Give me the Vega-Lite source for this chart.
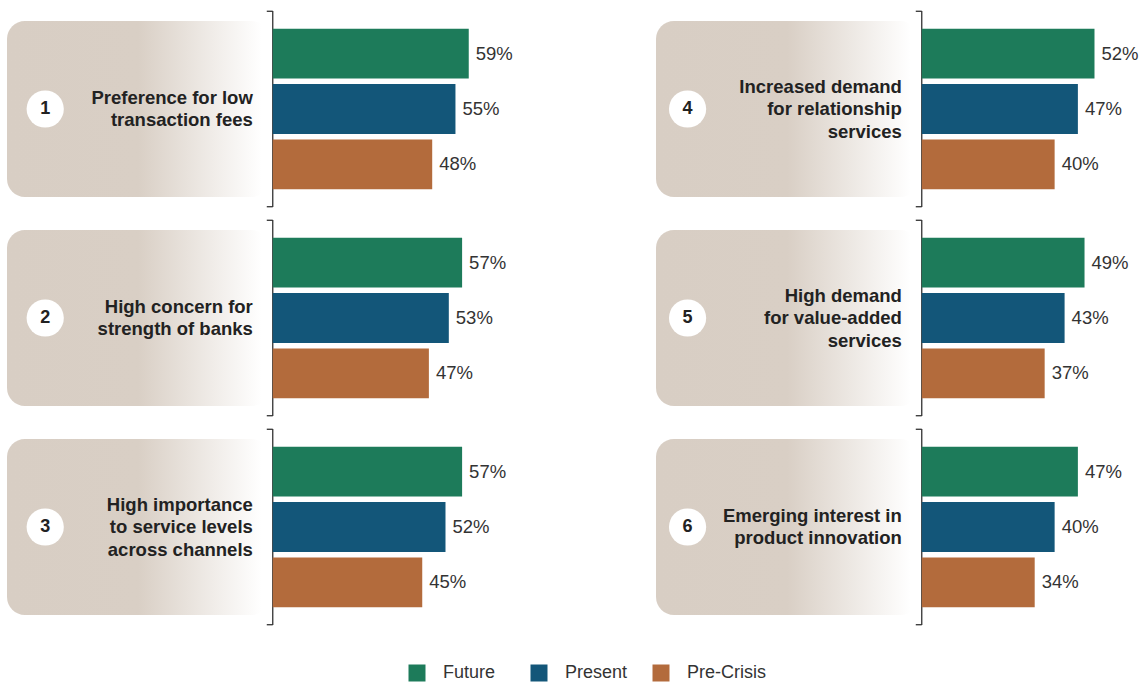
{
  "$schema": "https://vega.github.io/schema/vega-lite/v6.json",
  "padding": {"left": 7, "top": 10, "right": 0, "bottom": 0},
  "background": "white",
  "config": {
    "view": {"stroke": null},
    "font": "Liberation Sans"
  },
  "datasets": {
    "survey": [
      {"panel": "1", "label": ["Preference for low", "transaction fees"], "cat": "Future", "value": 0.59},
      {"panel": "1", "label": ["Preference for low", "transaction fees"], "cat": "Present", "value": 0.55},
      {"panel": "1", "label": ["Preference for low", "transaction fees"], "cat": "Pre-Crisis", "value": 0.48},
      {"panel": "2", "label": ["High concern for", "strength of banks"], "cat": "Future", "value": 0.57},
      {"panel": "2", "label": ["High concern for", "strength of banks"], "cat": "Present", "value": 0.53},
      {"panel": "2", "label": ["High concern for", "strength of banks"], "cat": "Pre-Crisis", "value": 0.47},
      {"panel": "3", "label": ["High importance", "to service levels", "across channels"], "cat": "Future", "value": 0.57},
      {"panel": "3", "label": ["High importance", "to service levels", "across channels"], "cat": "Present", "value": 0.52},
      {"panel": "3", "label": ["High importance", "to service levels", "across channels"], "cat": "Pre-Crisis", "value": 0.45},
      {"panel": "4", "label": ["Increased demand", "for relationship", "services"], "cat": "Future", "value": 0.52},
      {"panel": "4", "label": ["Increased demand", "for relationship", "services"], "cat": "Present", "value": 0.47},
      {"panel": "4", "label": ["Increased demand", "for relationship", "services"], "cat": "Pre-Crisis", "value": 0.40},
      {"panel": "5", "label": ["High demand", "for value-added", "services"], "cat": "Future", "value": 0.49},
      {"panel": "5", "label": ["High demand", "for value-added", "services"], "cat": "Present", "value": 0.43},
      {"panel": "5", "label": ["High demand", "for value-added", "services"], "cat": "Pre-Crisis", "value": 0.37},
      {"panel": "6", "label": ["Emerging interest in", "product innovation"], "cat": "Future", "value": 0.47},
      {"panel": "6", "label": ["Emerging interest in", "product innovation"], "cat": "Present", "value": 0.40},
      {"panel": "6", "label": ["Emerging interest in", "product innovation"], "cat": "Pre-Crisis", "value": 0.34}
    ]
  },
  "data": {"name": "survey"},
  "spacing": 143,
  "hconcat": [
    {
      "spacing": 11,
      "vconcat": [
        {"width": 485, "height": 196, "transform": [{"filter": "datum.panel === '1'"}], "layer": [
          {"transform": [{"filter": "datum.cat === 'Future'"}], "mark": {"type": "rect", "cornerRadius": 18, "fill": {"gradient": "linear", "x1": 0, "y1": 0, "x2": 1, "y2": 0, "stops": [{"offset": 0, "color": "#d8cec4"}, {"offset": 0.5, "color": "#d9cfc5"}, {"offset": 0.97, "color": "#ffffff"}, {"offset": 1, "color": "#ffffff"}]}}, "encoding": {"x": {"datum": -0.8, "type": "quantitative", "scale": {"domain": [-0.8, 0.66], "nice": false}, "axis": null}, "x2": {"datum": -0.01}, "y": {"datum": "Future", "type": "nominal", "bandPosition": -0.155, "scale": {"domain": ["Future", "Present", "Pre-Crisis"], "paddingInner": 0.1, "paddingOuter": 0.32}, "axis": null}, "y2": {"datum": "Pre-Crisis", "bandPosition": 1.155}}},
          {"transform": [{"filter": "datum.cat === 'Future'"}], "mark": {"type": "rule", "color": "#333333", "strokeWidth": 1.3}, "encoding": {"x": {"datum": 0, "type": "quantitative", "axis": null}}},
          {"transform": [{"filter": "datum.cat === 'Future'"}], "mark": {"type": "rule", "color": "#333333", "strokeWidth": 1.3}, "encoding": {"x": {"datum": -0.018, "type": "quantitative", "axis": null}, "x2": {"datum": 0}, "y": {"datum": "Future", "type": "nominal", "bandPosition": -0.35, "axis": null}}},
          {"transform": [{"filter": "datum.cat === 'Future'"}], "mark": {"type": "rule", "color": "#333333", "strokeWidth": 1.3}, "encoding": {"x": {"datum": -0.018, "type": "quantitative", "axis": null}, "x2": {"datum": 0}, "y": {"datum": "Pre-Crisis", "type": "nominal", "bandPosition": 1.35, "axis": null}}},
          {"mark": {"type": "bar"}, "encoding": {"x": {"field": "value", "type": "quantitative", "axis": null}, "y": {"field": "cat", "type": "nominal", "axis": null}, "color": {"field": "cat", "type": "nominal", "scale": {"domain": ["Future", "Present", "Pre-Crisis"], "range": ["#1d7b5a", "#135679", "#b36b3c"]}, "legend": {"orient": "none", "legendX": 401, "legendY": 653, "title": null, "direction": "horizontal", "symbolType": "square", "symbolSize": 289, "symbolStrokeWidth": 0, "symbolOpacity": 1, "labelFontSize": 18, "labelColor": "#333333", "labelOffset": 17, "columnPadding": 8, "gridAlign": "all"}}}},
          {"mark": {"type": "text", "align": "left", "baseline": "middle", "dx": 7, "fontSize": 18.5, "color": "#333333"}, "encoding": {"x": {"field": "value", "type": "quantitative", "axis": null}, "y": {"field": "cat", "type": "nominal", "axis": null}, "text": {"field": "value", "type": "quantitative", "format": ".0%"}}},
          {"transform": [{"filter": "datum.cat === 'Future'"}], "mark": {"type": "circle", "size": 1385, "fill": "#ffffff", "opacity": 1, "strokeWidth": 0}, "encoding": {"x": {"datum": -0.685, "type": "quantitative", "axis": null}, "y": {"datum": "Present", "type": "nominal", "axis": null}}},
          {"transform": [{"filter": "datum.cat === 'Future'"}], "mark": {"type": "text", "align": "center", "baseline": "middle", "fontSize": 18, "fontWeight": "bold", "color": "#222222"}, "encoding": {"x": {"datum": -0.685, "type": "quantitative", "axis": null}, "y": {"datum": "Present", "type": "nominal", "axis": null}, "text": {"field": "panel", "type": "nominal"}}},
          {"transform": [{"filter": "datum.cat === 'Future'"}], "mark": {"type": "text", "align": "right", "baseline": "middle", "dy": -11.25, "fontSize": 18.5, "fontWeight": "bold", "lineHeight": 22.5, "color": "#222222"}, "encoding": {"x": {"datum": -0.06, "type": "quantitative", "axis": null}, "y": {"datum": "Present", "type": "nominal", "axis": null}, "text": {"field": "label"}}}
        ]},
        {"width": 485, "height": 196, "transform": [{"filter": "datum.panel === '2'"}], "layer": [
          {"transform": [{"filter": "datum.cat === 'Future'"}], "mark": {"type": "rect", "cornerRadius": 18, "fill": {"gradient": "linear", "x1": 0, "y1": 0, "x2": 1, "y2": 0, "stops": [{"offset": 0, "color": "#d8cec4"}, {"offset": 0.5, "color": "#d9cfc5"}, {"offset": 0.97, "color": "#ffffff"}, {"offset": 1, "color": "#ffffff"}]}}, "encoding": {"x": {"datum": -0.8, "type": "quantitative", "scale": {"domain": [-0.8, 0.66], "nice": false}, "axis": null}, "x2": {"datum": -0.01}, "y": {"datum": "Future", "type": "nominal", "bandPosition": -0.155, "scale": {"domain": ["Future", "Present", "Pre-Crisis"], "paddingInner": 0.1, "paddingOuter": 0.32}, "axis": null}, "y2": {"datum": "Pre-Crisis", "bandPosition": 1.155}}},
          {"transform": [{"filter": "datum.cat === 'Future'"}], "mark": {"type": "rule", "color": "#333333", "strokeWidth": 1.3}, "encoding": {"x": {"datum": 0, "type": "quantitative", "axis": null}}},
          {"transform": [{"filter": "datum.cat === 'Future'"}], "mark": {"type": "rule", "color": "#333333", "strokeWidth": 1.3}, "encoding": {"x": {"datum": -0.018, "type": "quantitative", "axis": null}, "x2": {"datum": 0}, "y": {"datum": "Future", "type": "nominal", "bandPosition": -0.35, "axis": null}}},
          {"transform": [{"filter": "datum.cat === 'Future'"}], "mark": {"type": "rule", "color": "#333333", "strokeWidth": 1.3}, "encoding": {"x": {"datum": -0.018, "type": "quantitative", "axis": null}, "x2": {"datum": 0}, "y": {"datum": "Pre-Crisis", "type": "nominal", "bandPosition": 1.35, "axis": null}}},
          {"mark": {"type": "bar"}, "encoding": {"x": {"field": "value", "type": "quantitative", "axis": null}, "y": {"field": "cat", "type": "nominal", "axis": null}, "color": {"field": "cat", "type": "nominal"}}},
          {"mark": {"type": "text", "align": "left", "baseline": "middle", "dx": 7, "fontSize": 18.5, "color": "#333333"}, "encoding": {"x": {"field": "value", "type": "quantitative", "axis": null}, "y": {"field": "cat", "type": "nominal", "axis": null}, "text": {"field": "value", "type": "quantitative", "format": ".0%"}}},
          {"transform": [{"filter": "datum.cat === 'Future'"}], "mark": {"type": "circle", "size": 1385, "fill": "#ffffff", "opacity": 1, "strokeWidth": 0}, "encoding": {"x": {"datum": -0.685, "type": "quantitative", "axis": null}, "y": {"datum": "Present", "type": "nominal", "axis": null}}},
          {"transform": [{"filter": "datum.cat === 'Future'"}], "mark": {"type": "text", "align": "center", "baseline": "middle", "fontSize": 18, "fontWeight": "bold", "color": "#222222"}, "encoding": {"x": {"datum": -0.685, "type": "quantitative", "axis": null}, "y": {"datum": "Present", "type": "nominal", "axis": null}, "text": {"field": "panel", "type": "nominal"}}},
          {"transform": [{"filter": "datum.cat === 'Future'"}], "mark": {"type": "text", "align": "right", "baseline": "middle", "dy": -11.25, "fontSize": 18.5, "fontWeight": "bold", "lineHeight": 22.5, "color": "#222222"}, "encoding": {"x": {"datum": -0.06, "type": "quantitative", "axis": null}, "y": {"datum": "Present", "type": "nominal", "axis": null}, "text": {"field": "label"}}}
        ]},
        {"width": 485, "height": 196, "transform": [{"filter": "datum.panel === '3'"}], "layer": [
          {"transform": [{"filter": "datum.cat === 'Future'"}], "mark": {"type": "rect", "cornerRadius": 18, "fill": {"gradient": "linear", "x1": 0, "y1": 0, "x2": 1, "y2": 0, "stops": [{"offset": 0, "color": "#d8cec4"}, {"offset": 0.5, "color": "#d9cfc5"}, {"offset": 0.97, "color": "#ffffff"}, {"offset": 1, "color": "#ffffff"}]}}, "encoding": {"x": {"datum": -0.8, "type": "quantitative", "scale": {"domain": [-0.8, 0.66], "nice": false}, "axis": null}, "x2": {"datum": -0.01}, "y": {"datum": "Future", "type": "nominal", "bandPosition": -0.155, "scale": {"domain": ["Future", "Present", "Pre-Crisis"], "paddingInner": 0.1, "paddingOuter": 0.32}, "axis": null}, "y2": {"datum": "Pre-Crisis", "bandPosition": 1.155}}},
          {"transform": [{"filter": "datum.cat === 'Future'"}], "mark": {"type": "rule", "color": "#333333", "strokeWidth": 1.3}, "encoding": {"x": {"datum": 0, "type": "quantitative", "axis": null}}},
          {"transform": [{"filter": "datum.cat === 'Future'"}], "mark": {"type": "rule", "color": "#333333", "strokeWidth": 1.3}, "encoding": {"x": {"datum": -0.018, "type": "quantitative", "axis": null}, "x2": {"datum": 0}, "y": {"datum": "Future", "type": "nominal", "bandPosition": -0.35, "axis": null}}},
          {"transform": [{"filter": "datum.cat === 'Future'"}], "mark": {"type": "rule", "color": "#333333", "strokeWidth": 1.3}, "encoding": {"x": {"datum": -0.018, "type": "quantitative", "axis": null}, "x2": {"datum": 0}, "y": {"datum": "Pre-Crisis", "type": "nominal", "bandPosition": 1.35, "axis": null}}},
          {"mark": {"type": "bar"}, "encoding": {"x": {"field": "value", "type": "quantitative", "axis": null}, "y": {"field": "cat", "type": "nominal", "axis": null}, "color": {"field": "cat", "type": "nominal"}}},
          {"mark": {"type": "text", "align": "left", "baseline": "middle", "dx": 7, "fontSize": 18.5, "color": "#333333"}, "encoding": {"x": {"field": "value", "type": "quantitative", "axis": null}, "y": {"field": "cat", "type": "nominal", "axis": null}, "text": {"field": "value", "type": "quantitative", "format": ".0%"}}},
          {"transform": [{"filter": "datum.cat === 'Future'"}], "mark": {"type": "circle", "size": 1385, "fill": "#ffffff", "opacity": 1, "strokeWidth": 0}, "encoding": {"x": {"datum": -0.685, "type": "quantitative", "axis": null}, "y": {"datum": "Present", "type": "nominal", "axis": null}}},
          {"transform": [{"filter": "datum.cat === 'Future'"}], "mark": {"type": "text", "align": "center", "baseline": "middle", "fontSize": 18, "fontWeight": "bold", "color": "#222222"}, "encoding": {"x": {"datum": -0.685, "type": "quantitative", "axis": null}, "y": {"datum": "Present", "type": "nominal", "axis": null}, "text": {"field": "panel", "type": "nominal"}}},
          {"transform": [{"filter": "datum.cat === 'Future'"}], "mark": {"type": "text", "align": "right", "baseline": "middle", "dy": -22.5, "fontSize": 18.5, "fontWeight": "bold", "lineHeight": 22.5, "color": "#222222"}, "encoding": {"x": {"datum": -0.06, "type": "quantitative", "axis": null}, "y": {"datum": "Present", "type": "nominal", "axis": null}, "text": {"field": "label"}}}
        ]}
      ]
    },
    {
      "spacing": 11,
      "vconcat": [
        {"width": 485, "height": 196, "transform": [{"filter": "datum.panel === '4'"}], "layer": [
          {"transform": [{"filter": "datum.cat === 'Future'"}], "mark": {"type": "rect", "cornerRadius": 18, "fill": {"gradient": "linear", "x1": 0, "y1": 0, "x2": 1, "y2": 0, "stops": [{"offset": 0, "color": "#d8cec4"}, {"offset": 0.5, "color": "#d9cfc5"}, {"offset": 0.97, "color": "#ffffff"}, {"offset": 1, "color": "#ffffff"}]}}, "encoding": {"x": {"datum": -0.8, "type": "quantitative", "scale": {"domain": [-0.8, 0.66], "nice": false}, "axis": null}, "x2": {"datum": -0.01}, "y": {"datum": "Future", "type": "nominal", "bandPosition": -0.155, "scale": {"domain": ["Future", "Present", "Pre-Crisis"], "paddingInner": 0.1, "paddingOuter": 0.32}, "axis": null}, "y2": {"datum": "Pre-Crisis", "bandPosition": 1.155}}},
          {"transform": [{"filter": "datum.cat === 'Future'"}], "mark": {"type": "rule", "color": "#333333", "strokeWidth": 1.3}, "encoding": {"x": {"datum": 0, "type": "quantitative", "axis": null}}},
          {"transform": [{"filter": "datum.cat === 'Future'"}], "mark": {"type": "rule", "color": "#333333", "strokeWidth": 1.3}, "encoding": {"x": {"datum": -0.018, "type": "quantitative", "axis": null}, "x2": {"datum": 0}, "y": {"datum": "Future", "type": "nominal", "bandPosition": -0.35, "axis": null}}},
          {"transform": [{"filter": "datum.cat === 'Future'"}], "mark": {"type": "rule", "color": "#333333", "strokeWidth": 1.3}, "encoding": {"x": {"datum": -0.018, "type": "quantitative", "axis": null}, "x2": {"datum": 0}, "y": {"datum": "Pre-Crisis", "type": "nominal", "bandPosition": 1.35, "axis": null}}},
          {"mark": {"type": "bar"}, "encoding": {"x": {"field": "value", "type": "quantitative", "axis": null}, "y": {"field": "cat", "type": "nominal", "axis": null}, "color": {"field": "cat", "type": "nominal"}}},
          {"mark": {"type": "text", "align": "left", "baseline": "middle", "dx": 7, "fontSize": 18.5, "color": "#333333"}, "encoding": {"x": {"field": "value", "type": "quantitative", "axis": null}, "y": {"field": "cat", "type": "nominal", "axis": null}, "text": {"field": "value", "type": "quantitative", "format": ".0%"}}},
          {"transform": [{"filter": "datum.cat === 'Future'"}], "mark": {"type": "circle", "size": 1385, "fill": "#ffffff", "opacity": 1, "strokeWidth": 0}, "encoding": {"x": {"datum": -0.705, "type": "quantitative", "axis": null}, "y": {"datum": "Present", "type": "nominal", "axis": null}}},
          {"transform": [{"filter": "datum.cat === 'Future'"}], "mark": {"type": "text", "align": "center", "baseline": "middle", "fontSize": 18, "fontWeight": "bold", "color": "#222222"}, "encoding": {"x": {"datum": -0.705, "type": "quantitative", "axis": null}, "y": {"datum": "Present", "type": "nominal", "axis": null}, "text": {"field": "panel", "type": "nominal"}}},
          {"transform": [{"filter": "datum.cat === 'Future'"}], "mark": {"type": "text", "align": "right", "baseline": "middle", "dy": -22.5, "fontSize": 18.5, "fontWeight": "bold", "lineHeight": 22.5, "color": "#222222"}, "encoding": {"x": {"datum": -0.06, "type": "quantitative", "axis": null}, "y": {"datum": "Present", "type": "nominal", "axis": null}, "text": {"field": "label"}}}
        ]},
        {"width": 485, "height": 196, "transform": [{"filter": "datum.panel === '5'"}], "layer": [
          {"transform": [{"filter": "datum.cat === 'Future'"}], "mark": {"type": "rect", "cornerRadius": 18, "fill": {"gradient": "linear", "x1": 0, "y1": 0, "x2": 1, "y2": 0, "stops": [{"offset": 0, "color": "#d8cec4"}, {"offset": 0.5, "color": "#d9cfc5"}, {"offset": 0.97, "color": "#ffffff"}, {"offset": 1, "color": "#ffffff"}]}}, "encoding": {"x": {"datum": -0.8, "type": "quantitative", "scale": {"domain": [-0.8, 0.66], "nice": false}, "axis": null}, "x2": {"datum": -0.01}, "y": {"datum": "Future", "type": "nominal", "bandPosition": -0.155, "scale": {"domain": ["Future", "Present", "Pre-Crisis"], "paddingInner": 0.1, "paddingOuter": 0.32}, "axis": null}, "y2": {"datum": "Pre-Crisis", "bandPosition": 1.155}}},
          {"transform": [{"filter": "datum.cat === 'Future'"}], "mark": {"type": "rule", "color": "#333333", "strokeWidth": 1.3}, "encoding": {"x": {"datum": 0, "type": "quantitative", "axis": null}}},
          {"transform": [{"filter": "datum.cat === 'Future'"}], "mark": {"type": "rule", "color": "#333333", "strokeWidth": 1.3}, "encoding": {"x": {"datum": -0.018, "type": "quantitative", "axis": null}, "x2": {"datum": 0}, "y": {"datum": "Future", "type": "nominal", "bandPosition": -0.35, "axis": null}}},
          {"transform": [{"filter": "datum.cat === 'Future'"}], "mark": {"type": "rule", "color": "#333333", "strokeWidth": 1.3}, "encoding": {"x": {"datum": -0.018, "type": "quantitative", "axis": null}, "x2": {"datum": 0}, "y": {"datum": "Pre-Crisis", "type": "nominal", "bandPosition": 1.35, "axis": null}}},
          {"mark": {"type": "bar"}, "encoding": {"x": {"field": "value", "type": "quantitative", "axis": null}, "y": {"field": "cat", "type": "nominal", "axis": null}, "color": {"field": "cat", "type": "nominal"}}},
          {"mark": {"type": "text", "align": "left", "baseline": "middle", "dx": 7, "fontSize": 18.5, "color": "#333333"}, "encoding": {"x": {"field": "value", "type": "quantitative", "axis": null}, "y": {"field": "cat", "type": "nominal", "axis": null}, "text": {"field": "value", "type": "quantitative", "format": ".0%"}}},
          {"transform": [{"filter": "datum.cat === 'Future'"}], "mark": {"type": "circle", "size": 1385, "fill": "#ffffff", "opacity": 1, "strokeWidth": 0}, "encoding": {"x": {"datum": -0.705, "type": "quantitative", "axis": null}, "y": {"datum": "Present", "type": "nominal", "axis": null}}},
          {"transform": [{"filter": "datum.cat === 'Future'"}], "mark": {"type": "text", "align": "center", "baseline": "middle", "fontSize": 18, "fontWeight": "bold", "color": "#222222"}, "encoding": {"x": {"datum": -0.705, "type": "quantitative", "axis": null}, "y": {"datum": "Present", "type": "nominal", "axis": null}, "text": {"field": "panel", "type": "nominal"}}},
          {"transform": [{"filter": "datum.cat === 'Future'"}], "mark": {"type": "text", "align": "right", "baseline": "middle", "dy": -22.5, "fontSize": 18.5, "fontWeight": "bold", "lineHeight": 22.5, "color": "#222222"}, "encoding": {"x": {"datum": -0.06, "type": "quantitative", "axis": null}, "y": {"datum": "Present", "type": "nominal", "axis": null}, "text": {"field": "label"}}}
        ]},
        {"width": 485, "height": 196, "transform": [{"filter": "datum.panel === '6'"}], "layer": [
          {"transform": [{"filter": "datum.cat === 'Future'"}], "mark": {"type": "rect", "cornerRadius": 18, "fill": {"gradient": "linear", "x1": 0, "y1": 0, "x2": 1, "y2": 0, "stops": [{"offset": 0, "color": "#d8cec4"}, {"offset": 0.5, "color": "#d9cfc5"}, {"offset": 0.97, "color": "#ffffff"}, {"offset": 1, "color": "#ffffff"}]}}, "encoding": {"x": {"datum": -0.8, "type": "quantitative", "scale": {"domain": [-0.8, 0.66], "nice": false}, "axis": null}, "x2": {"datum": -0.01}, "y": {"datum": "Future", "type": "nominal", "bandPosition": -0.155, "scale": {"domain": ["Future", "Present", "Pre-Crisis"], "paddingInner": 0.1, "paddingOuter": 0.32}, "axis": null}, "y2": {"datum": "Pre-Crisis", "bandPosition": 1.155}}},
          {"transform": [{"filter": "datum.cat === 'Future'"}], "mark": {"type": "rule", "color": "#333333", "strokeWidth": 1.3}, "encoding": {"x": {"datum": 0, "type": "quantitative", "axis": null}}},
          {"transform": [{"filter": "datum.cat === 'Future'"}], "mark": {"type": "rule", "color": "#333333", "strokeWidth": 1.3}, "encoding": {"x": {"datum": -0.018, "type": "quantitative", "axis": null}, "x2": {"datum": 0}, "y": {"datum": "Future", "type": "nominal", "bandPosition": -0.35, "axis": null}}},
          {"transform": [{"filter": "datum.cat === 'Future'"}], "mark": {"type": "rule", "color": "#333333", "strokeWidth": 1.3}, "encoding": {"x": {"datum": -0.018, "type": "quantitative", "axis": null}, "x2": {"datum": 0}, "y": {"datum": "Pre-Crisis", "type": "nominal", "bandPosition": 1.35, "axis": null}}},
          {"mark": {"type": "bar"}, "encoding": {"x": {"field": "value", "type": "quantitative", "axis": null}, "y": {"field": "cat", "type": "nominal", "axis": null}, "color": {"field": "cat", "type": "nominal"}}},
          {"mark": {"type": "text", "align": "left", "baseline": "middle", "dx": 7, "fontSize": 18.5, "color": "#333333"}, "encoding": {"x": {"field": "value", "type": "quantitative", "axis": null}, "y": {"field": "cat", "type": "nominal", "axis": null}, "text": {"field": "value", "type": "quantitative", "format": ".0%"}}},
          {"transform": [{"filter": "datum.cat === 'Future'"}], "mark": {"type": "circle", "size": 1385, "fill": "#ffffff", "opacity": 1, "strokeWidth": 0}, "encoding": {"x": {"datum": -0.705, "type": "quantitative", "axis": null}, "y": {"datum": "Present", "type": "nominal", "axis": null}}},
          {"transform": [{"filter": "datum.cat === 'Future'"}], "mark": {"type": "text", "align": "center", "baseline": "middle", "fontSize": 18, "fontWeight": "bold", "color": "#222222"}, "encoding": {"x": {"datum": -0.705, "type": "quantitative", "axis": null}, "y": {"datum": "Present", "type": "nominal", "axis": null}, "text": {"field": "panel", "type": "nominal"}}},
          {"transform": [{"filter": "datum.cat === 'Future'"}], "mark": {"type": "text", "align": "right", "baseline": "middle", "dy": -11.25, "fontSize": 18.5, "fontWeight": "bold", "lineHeight": 22.5, "color": "#222222"}, "encoding": {"x": {"datum": -0.06, "type": "quantitative", "axis": null}, "y": {"datum": "Present", "type": "nominal", "axis": null}, "text": {"field": "label"}}}
        ]}
      ]
    }
  ]
}
